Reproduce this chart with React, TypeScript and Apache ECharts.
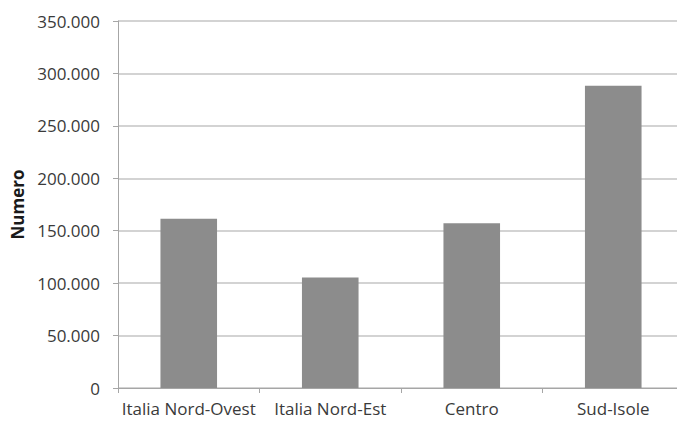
import React, { useEffect, useRef } from "react";
import * as echarts from "echarts";

const categories = ["Italia Nord-Ovest", "Italia Nord-Est", "Centro", "Sud-Isole"];
const values = [161400, 105400, 157000, 288200];
const yTicks = [0, 50000, 100000, 150000, 200000, 250000, 300000, 350000];

const fmt = (v: number) => (v === 0 ? "0" : v.toLocaleString("de-DE"));

export default function App() {
  const ref = useRef<HTMLDivElement>(null);
  useEffect(() => {
    const chart = echarts.init(ref.current!, null, { renderer: "svg" });
    const font = "'Open Sans', sans-serif";
    chart.setOption({
      animation: false,
      backgroundColor: "#ffffff",
      grid: { left: 118, right: -7, top: 21, bottom: 36, outerBoundsMode: "none", containLabel: false },
      xAxis: {
        type: "category",
        data: categories,
        axisLine: { lineStyle: { color: "#a6a6a6", width: 1 } },
        axisTick: { show: true, length: 5, alignWithLabel: false, lineStyle: { color: "#a6a6a6" } },
        axisLabel: { color: "#3a3a3a", fontSize: 17, fontFamily: font, margin: 12, interval: 0 },
      },
      yAxis: {
        type: "value",
        min: yTicks[0],
        max: yTicks[yTicks.length - 1],
        interval: 50000,
        name: "Numero",
        nameLocation: "middle",
        nameGap: 89,
        nameTextStyle: { color: "#1a1a1a", fontSize: 17, fontWeight: "bold", fontFamily: font },
        axisLine: { show: true, lineStyle: { color: "#a6a6a6", width: 1 } },
        axisTick: { show: true, length: 5, lineStyle: { color: "#a6a6a6" } },
        splitLine: { show: true, lineStyle: { color: "#c4c4c4", width: 1.5 } },
        axisLabel: { color: "#3a3a3a", fontSize: 17, fontFamily: font, margin: 18, formatter: fmt },
      },
      series: [
        {
          type: "bar",
          data: values,
          barWidth: "40%",
          itemStyle: { color: "#8c8c8c" },
        },
      ],
    });
    return () => chart.dispose();
  }, []);
  return <div ref={ref} style={{ position: "fixed", left: 0, top: 0, width: 677, height: 424 }} />;
}
